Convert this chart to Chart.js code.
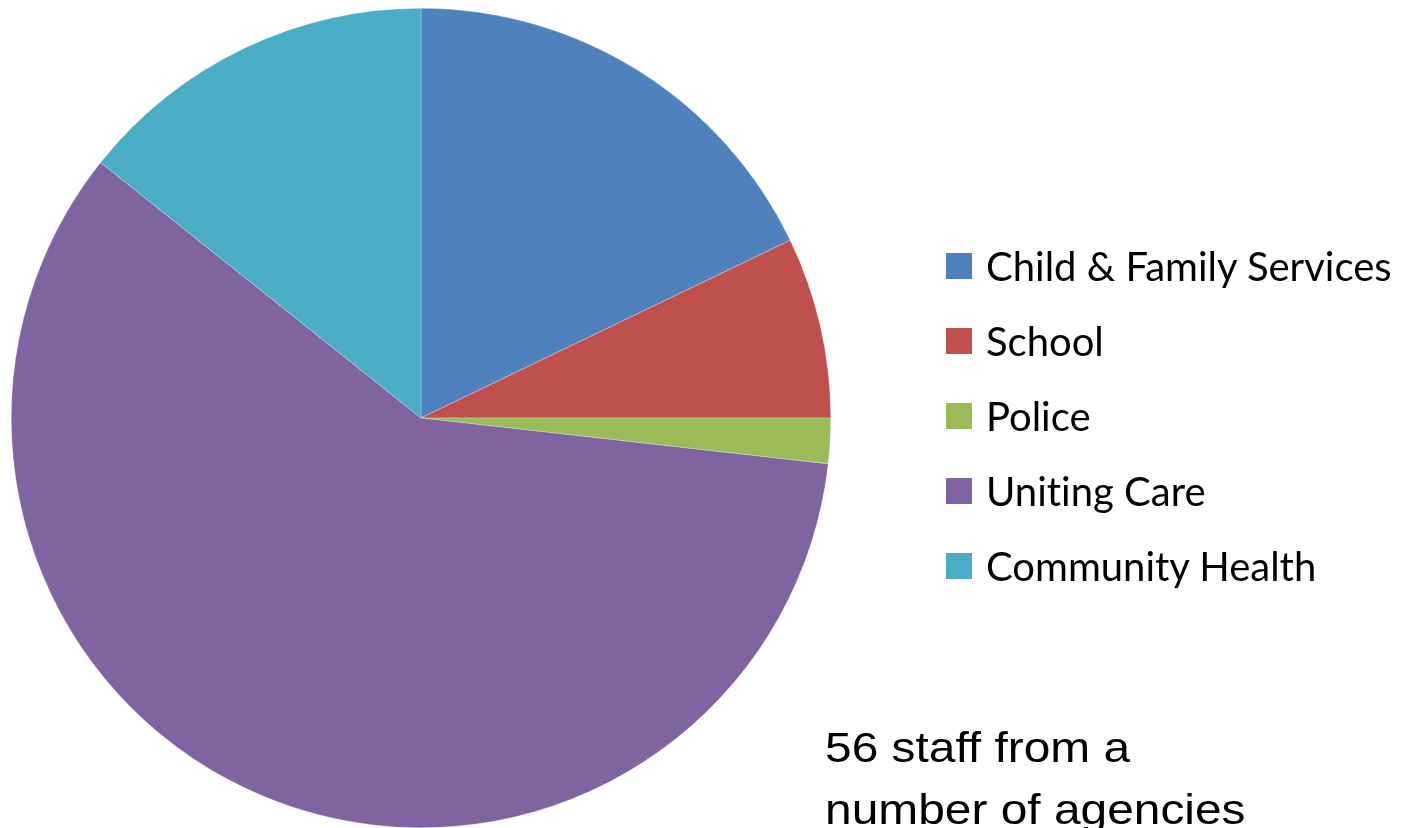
<!DOCTYPE html>
<html>
<head>
<meta charset="utf-8">
<script src="https://cdn.jsdelivr.net/npm/chart.js@4"></script>
<style>
  html,body{margin:0;padding:0;background:#fff;}
  #wrap{position:relative;width:1404px;height:828px;overflow:hidden;}
  #c{position:absolute;left:0;top:0;}
  #legend{position:absolute;left:946px;top:228px;font-family:Lato,"Open Sans",sans-serif;font-size:40px;color:#000;
          font-variant-ligatures:none;}
  .row{display:flex;align-items:center;height:75px;}
  .box{width:26px;height:26px;margin-right:14px;flex:none;}
  #note{position:absolute;left:825px;top:717px;font-family:"Liberation Sans",Arial,sans-serif;font-size:42px;line-height:62px;color:#000;
        transform:scaleX(1.14);transform-origin:left top;white-space:nowrap;}
</style>
</head>
<body>
<div id="wrap">
  <canvas id="c" width="1404" height="828"></canvas>
  <div id="legend"></div>
  <div id="note"></div>
</div>
<script>
// agencies & staff counts (56 total)
const labels = ['Child & Family Services','School','Police','Uniting Care','Community Health'];
const staff  = [10, 4, 1, 33, 8];
const colors = ['#4F81BD','#C0504D','#9BBB59','#8064A2','#4BACC6'];
const noteLines = ['56 staff from a','number of agencies'];

new Chart(document.getElementById('c'), {
  type:'pie',
  data:{
    labels,
    datasets:[{
      data: staff,
      backgroundColor: colors,
      borderColor:'rgba(255,255,255,0.5)',
      borderWidth:0.5
    }]
  },
  options:{
    responsive:false, animation:false,
    layout:{padding:{left:11, top:8, right:573, bottom:0}},
    plugins:{legend:{display:false}, tooltip:{enabled:false}}
  }
});

// legend (html)
const lg = document.getElementById('legend');
labels.forEach((l,i)=>{
  const row = document.createElement('div');
  row.className = 'row';
  const b = document.createElement('span');
  b.className = 'box';
  b.style.background = colors[i];
  const t = document.createElement('span');
  t.textContent = l;
  row.appendChild(b); row.appendChild(t);
  lg.appendChild(row);
});

document.getElementById('note').innerHTML = noteLines.join('<br>');
</script>
</body>
</html>
